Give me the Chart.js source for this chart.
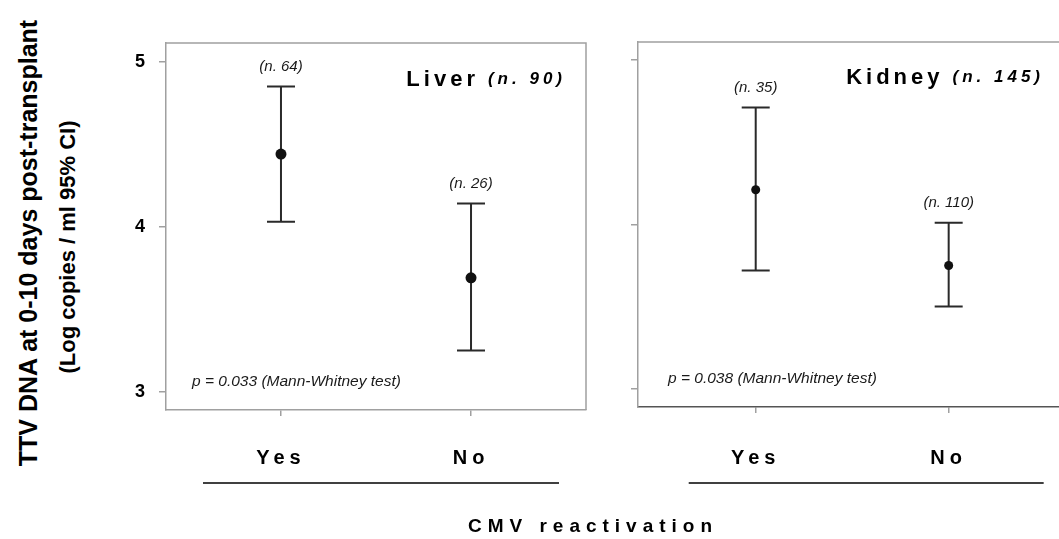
<!DOCTYPE html>
<html>
<head>
<meta charset="utf-8">
<script src="https://cdn.jsdelivr.net/npm/chart.js@4.4.1/dist/chart.umd.min.js"></script>
<style>
  html, body { margin:0; padding:0; background:#fff; }
  #wrap { position:relative; width:1059px; height:539px; overflow:hidden; font-family:'Liberation Sans', Arial, sans-serif; color:#000; }
  canvas { position:absolute; top:0; }
  #liver { left:100px; }
  #kidney { left:590px; }
  .ytitle { position:absolute; white-space:nowrap; font-weight:bold; transform:translate(-50%,-50%) rotate(-90deg); }
  #yt1 { left:28px; top:243px; font-size:25px; }
  #yt2 { left:68px; top:247px; font-size:22px; }
  #xt { position:absolute; left:593px; top:526px; transform:translate(-50%,-50%); font-weight:bold; font-size:19px; letter-spacing:6px; white-space:nowrap; }
</style>
</head>
<body>
<div id="wrap">
  <div class="ytitle" id="yt1">TTV DNA at 0-10 days post-transplant</div>
  <div class="ytitle" id="yt2">(Log copies / ml 95% CI)</div>
  <canvas id="liver" width="500" height="539"></canvas>
  <canvas id="kidney" width="490" height="539"></canvas>
  <div id="xt">CMV reactivation</div>
</div>
<script>
Chart.defaults.font.family = "'Liberation Sans', Arial, sans-serif";

var groups = ['Yes', 'No'];
var yTicks = [3, 4, 5];

// liver
var liverMean = [4.44, 3.69];
var liverLow = [4.03, 3.25];
var liverHigh = [4.85, 4.14];
var liverN = ['(n. 64)', '(n. 26)'];

// kidney
var kidneyMean = [4.21, 3.75];
var kidneyLow = [3.72, 3.50];
var kidneyHigh = [4.71, 4.01];
var kidneyN = ['(n. 35)', '(n. 110)'];

var axisGrey = '#a0a0a0';

// frame, error bars and the little texts of each panel
var panelPlugin = {
  id: 'panel',
  beforeDraw: function(chart) {
    chart.ctx.letterSpacing = '5px';
  },
  beforeDatasetsDraw: function(chart, args, o) {
    var ctx = chart.ctx, a = chart.chartArea;
    var xs = chart.scales.x, ys = chart.scales.y;
    var ds = chart.data.datasets[0];
    ctx.save();
    ctx.letterSpacing = '0px';
    ctx.strokeStyle = axisGrey;
    ctx.lineWidth = 1.5;
    ctx.beginPath();
    ctx.moveTo(a.left, a.top);
    ctx.lineTo(a.right, a.top);
    ctx.lineTo(a.right, a.bottom);
    ctx.stroke();

    ctx.strokeStyle = '#2a2a2a';
    ctx.lineWidth = 2;
    ds.data.forEach(function(p, i) {
      var x = xs.getPixelForValue(p.x);
      var y1 = ys.getPixelForValue(ds.low[i]);
      var y2 = ys.getPixelForValue(ds.high[i]);
      ctx.beginPath();
      ctx.moveTo(x, y1); ctx.lineTo(x, y2);
      ctx.moveTo(x - 14, y1); ctx.lineTo(x + 14, y1);
      ctx.moveTo(x - 14, y2); ctx.lineTo(x + 14, y2);
      ctx.stroke();
    });
    ctx.restore();
  },
  afterDraw: function(chart, args, o) {
    var ctx = chart.ctx, a = chart.chartArea;
    var xs = chart.scales.x, ys = chart.scales.y;
    var ds = chart.data.datasets[0];
    ctx.save();
    ctx.fillStyle = '#1a1a1a';
    ctx.letterSpacing = '0px';
    ctx.textBaseline = 'middle';

    // n per group
    ctx.textAlign = 'center';
    ctx.font = 'italic 15px ' + Chart.defaults.font.family;
    ds.data.forEach(function(p, i) {
      ctx.fillText(ds.nLabels[i], xs.getPixelForValue(p.x), ys.getPixelForValue(ds.high[i]) - 20);
    });

    // p value
    ctx.textAlign = 'left';
    ctx.font = 'italic 15.5px ' + Chart.defaults.font.family;
    ctx.fillText(o.pText, a.left + o.pLeft, a.bottom - 28);

    // panel title
    var ty = a.top + o.titleDy;
    var R = a.right - o.titleRight;
    ctx.fillStyle = '#000';
    ctx.textAlign = 'right';
    ctx.letterSpacing = '4px';
    ctx.font = 'italic bold 17px ' + Chart.defaults.font.family;
    ctx.fillText(o.titleN, R + 4, ty);
    var w = ctx.measureText(o.titleN).width;
    ctx.font = 'bold 22px ' + Chart.defaults.font.family;
    ctx.fillText(o.title, R + 4 - w - 13 + 4, ty + 1);

    // line under Yes / No
    ctx.strokeStyle = '#000';
    ctx.lineWidth = 1.5;
    ctx.beginPath();
    ctx.moveTo(xs.getPixelForValue(0) - o.lineLeft, chart.height - 56);
    ctx.lineTo(xs.getPixelForValue(1) + o.lineRight, chart.height - 56);
    ctx.stroke();
    ctx.restore();
  }
};

function makePanel(id, mean, low, high, nLabels, cfg) {
  var pts = groups.map(function(g, i) { return { x: i, y: mean[i] }; });
  return new Chart(document.getElementById(id), {
    type: 'scatter',
    data: {
      datasets: [{
        data: pts,
        low: low,
        high: high,
        nLabels: nLabels,
        pointRadius: cfg.radius,
        pointHoverRadius: cfg.radius,
        pointBackgroundColor: '#111',
        pointBorderColor: '#111',
        pointBorderWidth: 0
      }]
    },
    options: {
      responsive: false,
      animation: false,
      layout: { padding: { top: cfg.top, right: cfg.right, left: 0, bottom: 0 } },
      plugins: {
        legend: { display: false },
        tooltip: { enabled: false },
        panel: cfg.panel
      },
      scales: {
        x: {
          type: 'linear',
          min: cfg.xMin,
          max: cfg.xMax,
          afterBuildTicks: function(s) { s.ticks = groups.map(function(g, i) { return { value: i }; }); },
          afterFit: function(s) { s.height = cfg.xHeight; },
          ticks: {
            callback: function(v) { return groups[v]; },
            font: { size: 20, weight: 'bold' },
            color: '#000',
            padding: cfg.xPad,
            maxRotation: 0
          },
          grid: { drawOnChartArea: false, drawTicks: true, tickLength: 6, color: axisGrey, lineWidth: 1.5 },
          border: { display: true, color: cfg.bottomColor, width: 1.5 }
        },
        y: {
          min: cfg.yMin,
          max: cfg.yMax,
          afterBuildTicks: function(s) { s.ticks = yTicks.map(function(v) { return { value: v }; }); },
          afterFit: function(s) { s.width = cfg.yWidth; },
          ticks: {
            display: cfg.yLabels,
            font: { size: 18, weight: 'bold' },
            color: '#000',
            padding: 9
          },
          grid: { drawOnChartArea: false, drawTicks: true, tickLength: 7, color: axisGrey, lineWidth: 1.5 },
          border: { display: true, color: axisGrey, width: 1.5 }
        }
      }
    },
    plugins: [panelPlugin]
  });
}

makePanel('liver', liverMean, liverLow, liverHigh, liverN, {
  radius: 5.5, top: 43, right: 14, xHeight: 129, yWidth: 66, xPad: 30,
  xMin: -0.605, xMax: 1.605, yMin: 2.889, yMax: 5.113, yLabels: true,
  bottomColor: axisGrey,
  panel: { title: 'Liver', titleN: '(n. 90)', titleRight: 24, titleDy: 36,
           pText: 'p = 0.033 (Mann-Whitney test)', pLeft: 26,
           lineLeft: 78, lineRight: 88 }
});

// this panel runs past the right edge of the page, as in the source figure
makePanel('kidney', kidneyMean, kidneyLow, kidneyHigh, kidneyN, {
  radius: 4.5, top: 42, right: 14, xHeight: 132, yWidth: 48, xPad: 33,
  xMin: -0.61, xMax: 1.608, yMin: 2.89, yMax: 5.108, yLabels: false,
  bottomColor: '#555',
  panel: { title: 'Kidney', titleN: '(n. 145)', titleRight: 26, titleDy: 35,
           pText: 'p = 0.038 (Mann-Whitney test)', pLeft: 30,
           lineLeft: 67, lineRight: 95 }
});
</script>
</body>
</html>
